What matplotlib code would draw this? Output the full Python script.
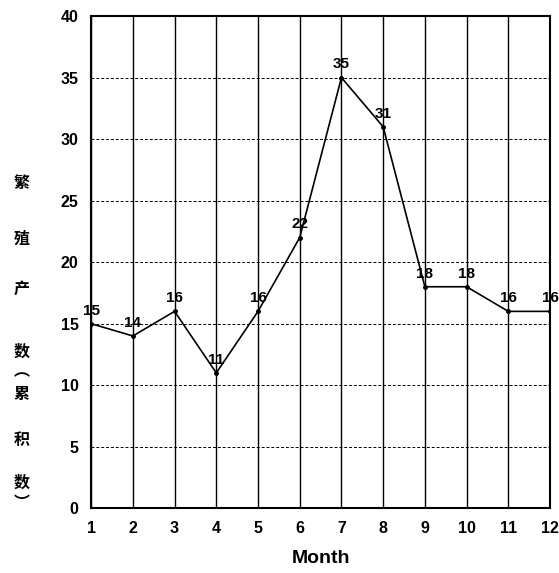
import matplotlib
matplotlib.use("Agg")
import matplotlib.pyplot as plt

months = [1, 2, 3, 4, 5, 6, 7, 8, 9, 10, 11, 12]
counts = [15, 14, 16, 11, 16, 22, 35, 31, 18, 18, 16, 16]
yticks = [0, 5, 10, 15, 20, 25, 30, 35, 40]
ylabel_chars = ["繁", "殖", "产", "数", "︵", "累", "积", "数", "︶"]
ylabel_ypos = [0.681, 0.583, 0.497, 0.386, 0.352, 0.312, 0.232, 0.157, 0.122]

fig = plt.figure(figsize=(5.59, 5.73), dpi=100)
ax = fig.add_axes([0.163, 0.113, 0.821, 0.859])

ax.plot(months, counts, color="black", linewidth=1.2, marker="o", markersize=2.5)
for m, c in zip(months, counts):
    ax.text(m, c + 0.5, str(c), ha="center", va="bottom", fontsize=11,
            fontweight="bold", family="Liberation Sans", clip_on=False)

ax.set_xlim(1, 12)
ax.set_ylim(0, 40)
ax.set_xticks(months)
ax.set_yticks(yticks)
ax.tick_params(length=0, pad=9, labelsize=11.5)
for lab in ax.get_xticklabels() + ax.get_yticklabels():
    lab.set_fontweight("bold")
    lab.set_family("Liberation Sans")

ax.xaxis.grid(True, color="black", linewidth=1.0, linestyle="-")
ax.yaxis.grid(True, color="black", linewidth=0.7, linestyle=(0, (3, 2)))
ax.set_axisbelow(True)
for s in ax.spines.values():
    s.set_linewidth(1.5)
    s.set_color("black")

ax.set_xlabel("Month", fontsize=14, fontweight="bold", family="Liberation Sans", labelpad=10)

for ch, yp in zip(ylabel_chars, ylabel_ypos):
    fig.text(0.038, yp, ch, ha="center", va="center", fontsize=11.5, fontweight="bold",
             family=["Noto Sans CJK SC", "DejaVu Sans"])

fig.savefig("out.png", dpi=100)
